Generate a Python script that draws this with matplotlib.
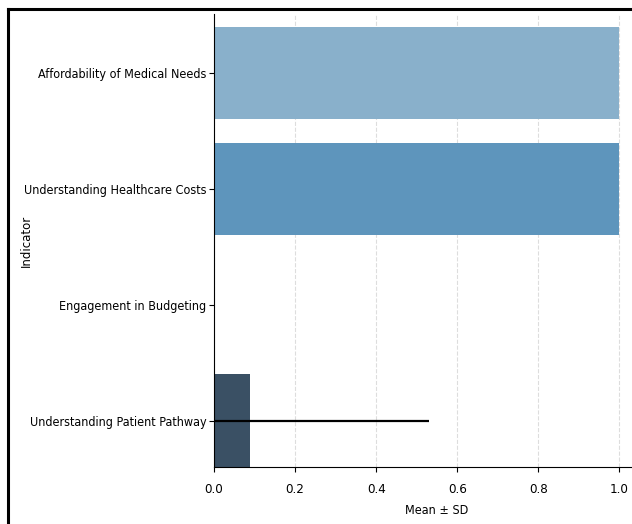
import matplotlib
matplotlib.use("Agg")
import matplotlib.pyplot as plt
from matplotlib.lines import Line2D
from matplotlib import font_manager as fm

indicators = ["Affordability of Medical Needs", "Understanding Healthcare Costs",
              "Engagement in Budgeting", "Understanding Patient Pathway"]
means = [1.0, 1.0, 0.0, 0.09]
sds = [0.0, 0.0, 0.0, 0.44]
colors = ["#89B0CB", "#5E95BC", "#4A6E8C", "#3A5064"]
xticks = [0.0, 0.2, 0.4, 0.6, 0.8, 1.0]

names = {f.name for f in fm.fontManager.ttflist}
cond = None
for cand in ["DejaVu Sans Condensed", "Liberation Sans Narrow"]:
    if cand in names:
        cond = cand
        break
fam = cond if cond else "DejaVu Sans"
stretch = "normal" if cond else "condensed"

fig = plt.figure(figsize=(6.32, 5.24), dpi=100)
# axes extends past the right edge of the (cropped) picture
ax = fig.add_axes([214/632, 57/524, (660-214)/632, (467-14)/524])

ypos = list(range(len(indicators)))
ax.barh(ypos, means, height=0.8, color=colors, edgecolor="none", zorder=2)
for y, m, s in zip(ypos, means, sds):
    if s > 0:
        ax.plot([m - s, m + s], [y, y], color="black", lw=1.6, zorder=3, solid_capstyle="butt")

ax.set_xlim(0, 1.1)
ax.set_ylim(3.4, -0.51)
ax.set_yticks(ypos)
ax.set_yticklabels(indicators, fontsize=9, fontfamily=fam, fontstretch=stretch)
ax.set_xticks(xticks)
ax.set_xticklabels([f"{t:.1f}" for t in xticks], fontsize=9.5, fontfamily=fam, fontstretch=stretch)
ax.set_xlabel("Mean ± SD", fontsize=9, fontfamily=fam, fontstretch=stretch, labelpad=6)
ax.set_ylabel("Indicator", fontsize=8.5)
ax.yaxis.set_label_coords((33-214)/(660-214), 0.5)
ax.xaxis.grid(True, linestyle="--", color="#DDDDDD", lw=0.8, zorder=0)
ax.set_axisbelow(True)
for s in ["top", "right"]:
    ax.spines[s].set_visible(False)
ax.tick_params(axis="y", length=3.5, width=0.8, pad=2)
ax.tick_params(axis="x", length=3.5, width=0.8, pad=8)

# screenshot frame
fig.add_artist(Line2D([8/632, 1], [1 - 9/524, 1 - 9/524], color="black", lw=2.2, transform=fig.transFigure))
fig.add_artist(Line2D([8/632, 8/632], [0, 1 - 9/524], color="black", lw=2.2, transform=fig.transFigure))

fig.savefig("out.png", dpi=100)
